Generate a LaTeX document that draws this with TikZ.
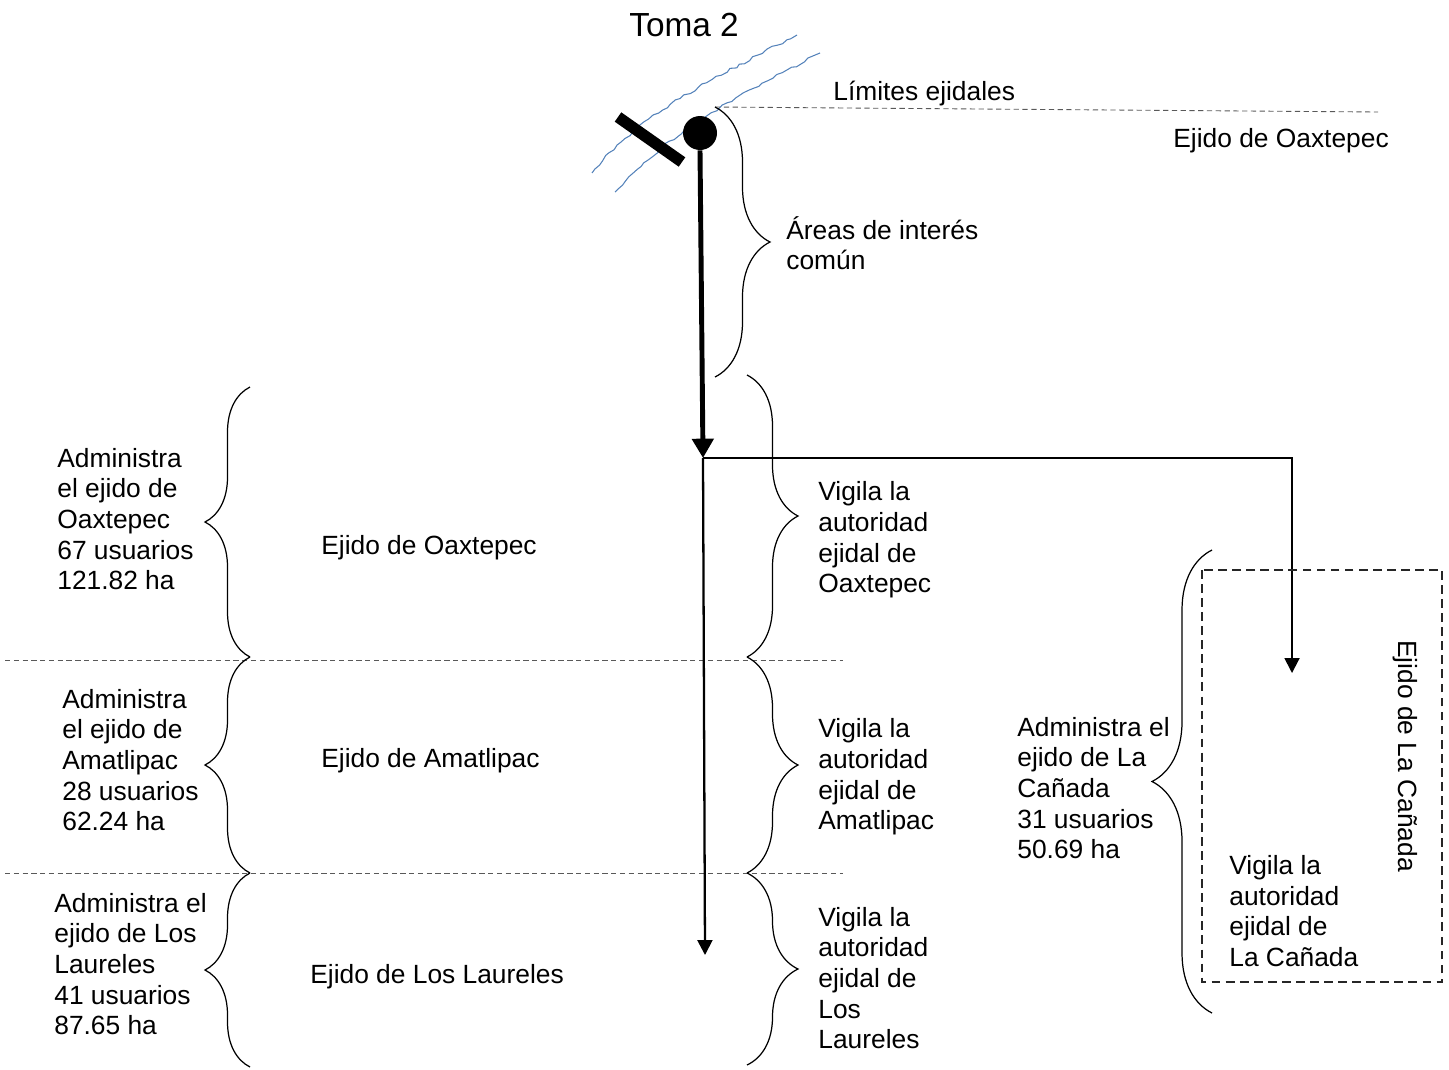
\documentclass[tikz,border=0pt]{standalone}
\usepackage{fontspec}
\setmainfont{Liberation Sans}
\usetikzlibrary{arrows.meta,decorations.pathreplacing,decorations.pathmorphing}
\definecolor{riverblue}{RGB}{84,130,186}

\begin{document}
\begin{tikzpicture}[x=0.02cm,y=-0.02cm,
    txt/.style={anchor=west, align=left, inner sep=0pt, font=\fontsize{15}{17.4}\selectfont},
    river/.style={riverblue, line width=0.6pt, decorate, decoration={random steps, amplitude=0.8pt, segment length=3pt}},
    limite/.style={densely dashed, gray!70!black, line width=0.5pt},
    curly/.style={decorate, decoration={brace, amplitude=#1}, line width=0.7pt},
    curly/.default=1cm]
    \pgfmathsetseed{7}
    \useasboundingbox (0,0) rectangle (1449,1069);
    % rio y toma
    \draw[river] (592,173) .. controls (640,115) and (700,85) .. (797,35);
    \draw[river] (615,192) .. controls (665,135) and (730,100) .. (820,53);
    \draw[line width=6.5pt] (618,117) -- (682,162);
    \node[circle, fill, inner sep=0pt, minimum size=0.68cm] (toma) at (700,133) {};
    \node[txt, anchor=center, font=\fontsize{19}{22}\selectfont] (tomaLbl) at (684,25) {Toma 2};
    % limites
    \draw[limite] (715,107) -- (1378,112);
    \node[txt] (limites) at (833,94) {Límites ejidales};
    \node[txt] (oaxTop) at (1173,141) {Ejido de Oaxtepec};
    \draw[limite] (5,660) -- (843,660);
    \draw[limite] (5,873) -- (843,873);
    % canal
    \coordinate (cruce) at (703,458);
    \coordinate (laureles) at (705,955);
    \coordinate (canada) at (1292,673);
    \draw[line width=2.8pt, -{Triangle[length=11pt,width=12pt]}] (toma.south) -- (cruce);
    \draw[line width=1.3pt, -{Triangle[length=8.5pt,width=8.5pt]}] (cruce) -- (laureles);
    \draw[line width=1.1pt, -{Triangle[length=8.5pt,width=8.5pt]}] (cruce) -| (canada);
    % areas comunes
    \draw[curly=1.1cm] (715,107) -- (715,377);
    \node[txt] (areas) at (786,243) {Áreas de interés\\común};
    % ejidos
    \draw[curly=0.9cm] (250,657) -- (250,387);
    \draw[curly=0.9cm] (250,873) -- (250,657);
    \draw[curly=0.9cm] (250,1067) -- (250,873);
    \draw[curly=1.02cm] (747,375) -- (747,657);
    \draw[curly=1.02cm] (747,657) -- (747,873);
    \draw[curly=1.02cm] (747,873) -- (747,1065);
    \node[txt] (admOax) at (57,519) {Administra\\el ejido de\\Oaxtepec\\67 usuarios\\121.82 ha};
    \node[txt] (admAma) at (62,760) {Administra\\el ejido de\\Amatlipac\\28 usuarios\\62.24 ha};
    \node[txt] (admLau) at (54,964) {Administra el\\ejido de Los\\Laureles\\41 usuarios\\87.65 ha};
    \node[txt] (oax) at (321,548) {Ejido de Oaxtepec};
    \node[txt] (ama) at (321,761) {Ejido de Amatlipac};
    \node[txt] (lau) at (310,977) {Ejido de Los Laureles};
    \node[txt] (vigOax) at (818,540) {Vigila la\\autoridad\\ejidal de\\Oaxtepec};
    \node[txt] (vigAma) at (818,777) {Vigila la\\autoridad\\ejidal de\\Amatlipac};
    \node[txt] (vigLau) at (818,978) {Vigila la\\autoridad\\ejidal de\\Los\\Laureles};
    % la canada
    \draw[dashed, gray!30!black, line width=1.1pt, dash pattern=on 5pt off 3pt] (1202,570) rectangle (1442,982);
    \draw[curly=1.2cm] (1212,1013) -- (1212,550);
    \node[txt] (admCan) at (1017,788) {Administra el\\ejido de La\\Cañada\\31 usuarios\\50.69 ha};
    \node[txt] (vigCan) at (1229,911) {Vigila la\\autoridad\\ejidal de\\La Cañada};
    \node[txt, anchor=center, rotate=-90] (canLbl) at (1405,756) {Ejido de La Cañada};
\end{tikzpicture}
\end{document}
